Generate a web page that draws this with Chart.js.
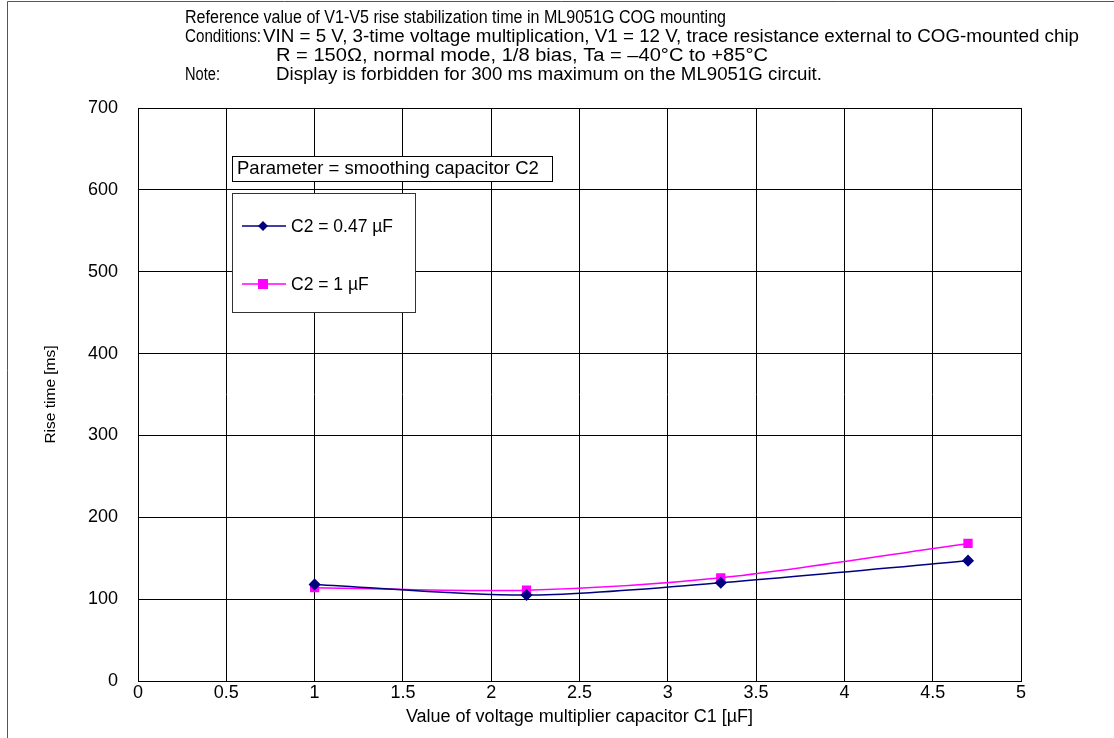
<!DOCTYPE html>
<html>
<head>
<meta charset="utf-8">
<script src="https://cdn.jsdelivr.net/npm/chart.js@4.4.0/dist/chart.umd.min.js"></script>
<style>
  html, body { margin: 0; padding: 0; background: #fff; }
  #wrap { width: 1114px; height: 738px; position: relative; }
</style>
</head>
<body>
<div id="wrap"><canvas id="riseChart" width="1114" height="738"></canvas></div>
<script>
// capacitor C1 values [uF]
const c1Values = [1, 2.2, 3.3, 4.7];
// rise time [ms] for each C2
const riseC2_047 = [118, 105, 120, 147];
const riseC2_1 = [114, 111, 126, 168];

const seriesNames = ['C2 = 0.47 \u00b5F', 'C2 = 1 \u00b5F'];
const headerLines = [
  ['', 'Reference value of V1-V5 rise stabilization time in ML9051G COG mounting'],
  ['Conditions:', 'VIN = 5 V, 3-time voltage multiplication, V1 = 12 V, trace resistance external to COG-mounted chip'],
  ['', 'R = 150\u03a9, normal mode, 1/8 bias, Ta = \u201340\u00b0C to +85\u00b0C'],
  ['Note:', 'Display is forbidden for 300 ms maximum on the ML9051G circuit.']
];
const paramLabel = 'Parameter = smoothing capacitor C2';

const FONT = '"Liberation Sans", Arial, sans-serif';

const toPoints = (xs, ys) => xs.map((x, i) => ({ x: x, y: ys[i] }));

// draw text squeezed/stretched to a given width
function fitText(ctx, text, x, y, width) {
  const w = ctx.measureText(text).width;
  ctx.save();
  ctx.translate(x, y);
  ctx.scale(width / w, 1);
  ctx.fillText(text, 0, 0);
  ctx.restore();
}

// frame, header notes, parameter box and legend box
const decorations = {
  id: 'decorations',
  beforeDraw(chart) {
    const ctx = chart.ctx;
    ctx.save();
    ctx.fillStyle = '#fff';
    ctx.fillRect(0, 0, chart.width, chart.height);
    ctx.strokeStyle = '#555';
    ctx.lineWidth = 1;
    ctx.beginPath();
    ctx.moveTo(7.5, 740);
    ctx.lineTo(7.5, 1.5);
    ctx.lineTo(1120, 1.5);
    ctx.stroke();
    ctx.restore();
  },
  afterDraw(chart) {
    const ctx = chart.ctx;
    const a = chart.chartArea;
    ctx.save();
    // plot frame
    ctx.strokeStyle = '#000';
    ctx.lineWidth = 1;
    ctx.strokeRect(Math.round(a.left) + 0.5, Math.round(a.top) + 0.5,
      Math.round(a.right - a.left), Math.round(a.bottom - a.top));

    // header text
    ctx.fillStyle = '#000';
    ctx.textBaseline = 'middle';
    ctx.font = '18px ' + FONT;
    const ys = [18, 37, 56, 75];
    const starts = [185, 263, 276, 276];
    const widths = [541, 816, 492, 546];
    headerLines.forEach((ln, i) => {
      if (ln[0]) fitText(ctx, ln[0], 185, ys[i], ln[0] === 'Note:' ? 35 : 76);
      fitText(ctx, ln[1], starts[i], ys[i], widths[i]);
    });

    // parameter box
    ctx.font = '18.5px ' + FONT;
    ctx.fillStyle = '#fff';
    ctx.fillRect(232, 156, 320, 25);
    ctx.strokeStyle = '#000';
    ctx.strokeRect(232.5, 156.5, 320, 25);
    ctx.fillStyle = '#000';
    ctx.fillText(paramLabel, 237, 169);

    // legend box
    ctx.font = '17.5px ' + FONT;
    ctx.fillStyle = '#fff';
    ctx.fillRect(232, 193, 183, 119);
    ctx.strokeStyle = '#333';
    ctx.strokeRect(232.5, 193.5, 183, 119);
    const rows = [226, 284];
    chart.data.datasets.forEach((ds, i) => {
      const y = rows[i];
      ctx.strokeStyle = ds.borderColor;
      ctx.lineWidth = 1.5;
      ctx.beginPath();
      ctx.moveTo(242, y);
      ctx.lineTo(286, y);
      ctx.stroke();
      ctx.fillStyle = ds.pointBackgroundColor;
      if (ds.pointStyle === 'rectRot') {
        ctx.beginPath();
        ctx.moveTo(263, y - 5);
        ctx.lineTo(268, y);
        ctx.lineTo(263, y + 5);
        ctx.lineTo(258, y);
        ctx.closePath();
        ctx.fill();
      } else {
        ctx.fillRect(258, y - 5, 10, 10);
      }
      ctx.fillStyle = '#000';
      ctx.fillText(ds.label, 291, y + 1);
    });
    ctx.restore();
  }
};

new Chart(document.getElementById('riseChart').getContext('2d'), {
  type: 'line',
  data: {
    datasets: [{
      label: seriesNames[0],
      data: toPoints(c1Values, riseC2_047),
      borderColor: '#000080',
      backgroundColor: '#000080',
      pointBackgroundColor: '#000080',
      pointBorderColor: '#000080',
      pointStyle: 'rectRot',
      pointRadius: 5,
      borderWidth: 1.5,
      tension: 0.3
    }, {
      label: seriesNames[1],
      data: toPoints(c1Values, riseC2_1),
      borderColor: '#ff00ff',
      backgroundColor: '#ff00ff',
      pointBackgroundColor: '#ff00ff',
      pointBorderColor: '#ff00ff',
      pointStyle: 'rect',
      pointRadius: 5.5,
      borderWidth: 1.5,
      tension: 0.3
    }]
  },
  options: {
    responsive: false,
    animation: false,
    layout: { padding: { left: 7, top: 108, right: 93, bottom: 0 } },
    plugins: {
      legend: { display: false },
      tooltip: { enabled: false }
    },
    scales: {
      x: {
        type: 'linear',
        min: 0,
        max: 5,
        ticks: {
          stepSize: 0.5,
          color: '#000',
          padding: 1,
          font: { family: FONT, size: 18 },
          callback: v => String(v)
        },
        grid: { color: '#000', drawTicks: false },
        border: { color: '#000' },
        title: {
          display: true,
          text: 'Value of voltage multiplier capacitor C1 [\u00b5F]',
          color: '#000',
          font: { family: FONT, size: 18 },
          padding: { top: 4, bottom: 10 }
        },
        afterFit(scale) { scale.height = 57; }
      },
      y: {
        min: 0,
        max: 700,
        ticks: { stepSize: 100, color: '#000', padding: 20, font: { family: FONT, size: 18 } },
        grid: { color: '#000', drawTicks: false },
        border: { color: '#000' },
        title: {
          display: true,
          text: 'Rise time [ms]',
          color: '#000',
          font: { family: FONT, size: 15.5 },
          padding: { top: 34, bottom: 0 }
        },
        afterFit(scale) { scale.width = 131; }
      }
    }
  },
  plugins: [decorations]
});
</script>
</body>
</html>
